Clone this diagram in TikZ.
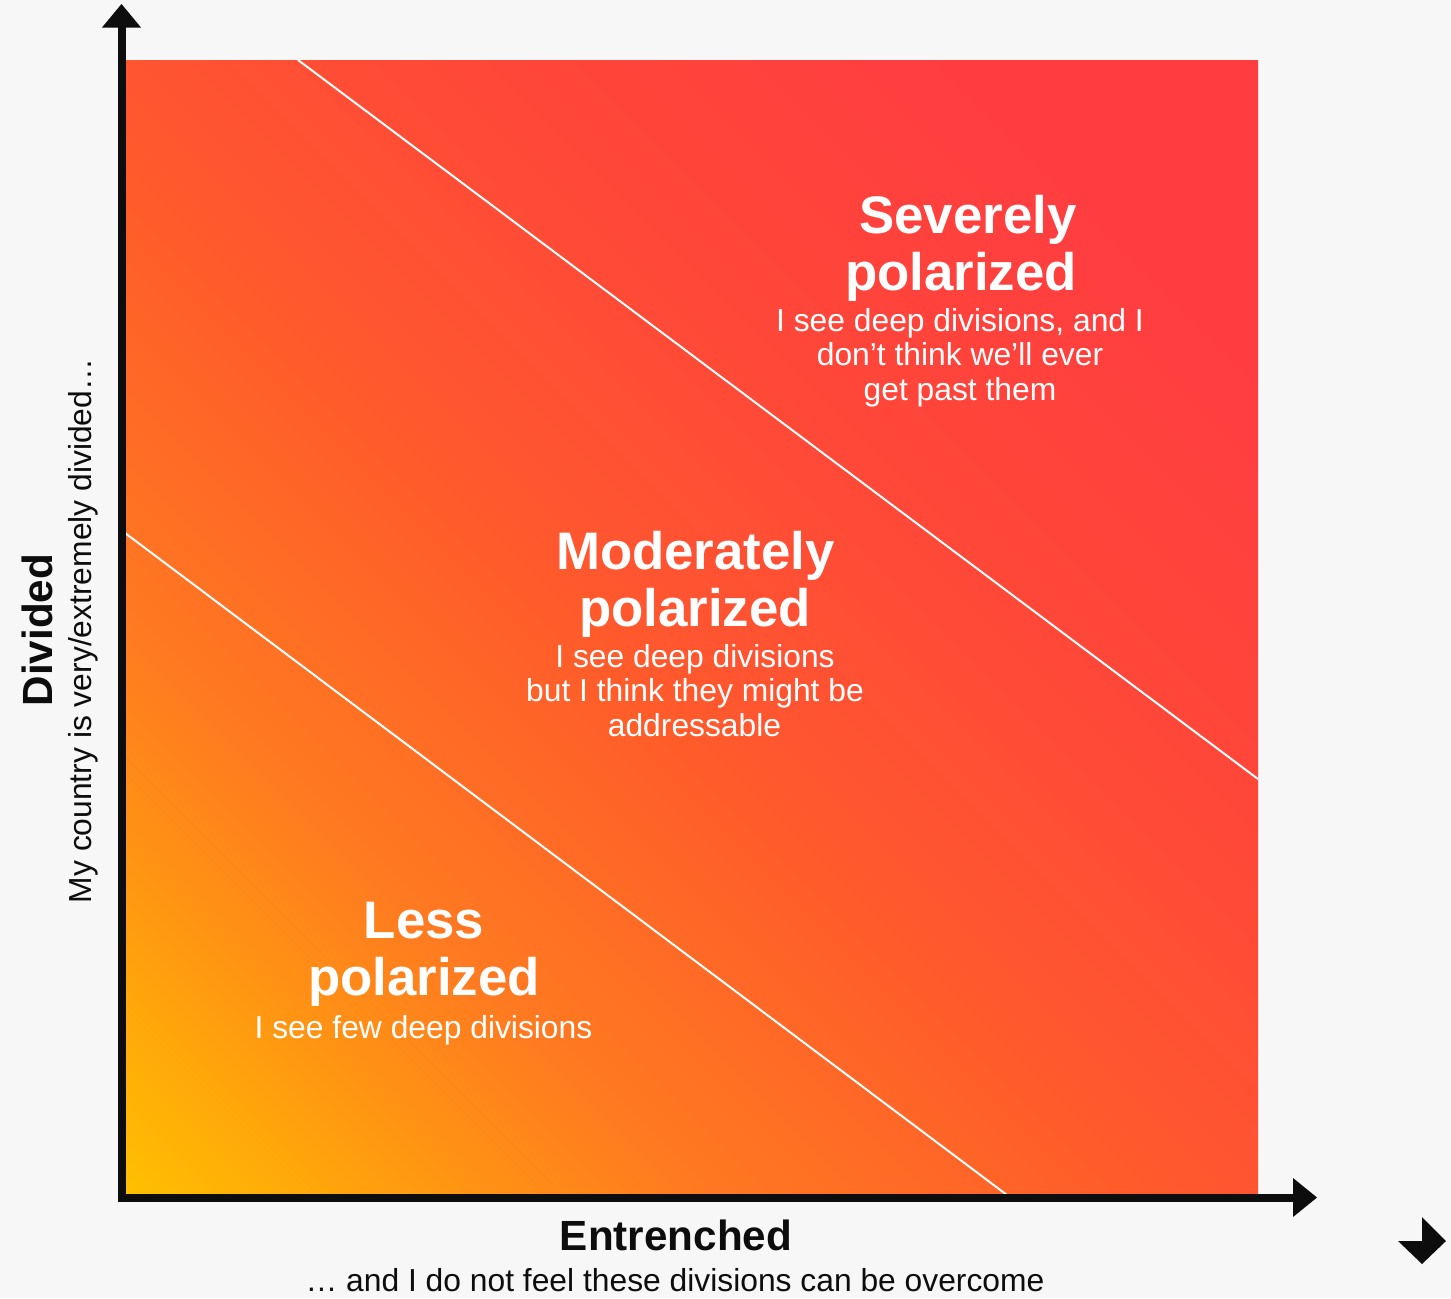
\documentclass[tikz,border=0pt]{standalone}
\usepackage{fontspec}
\setmainfont{Liberation Sans}
\definecolor{bg}{HTML}{F7F7F7}
\definecolor{ink}{HTML}{0D0D0D}
\definecolor{cA}{HTML}{FFC000}
\definecolor{cB}{HTML}{FF9A10}
\definecolor{cC}{HTML}{FF7A20}
\definecolor{cD}{HTML}{FF5C2A}
\definecolor{cE}{HTML}{FF5530}
\definecolor{cF}{HTML}{FF4838}
\definecolor{cG}{HTML}{FF3D40}
\pgfdeclarehorizontalshading{polar}{100bp}{color(0bp)=(cA); color(14.6bp)=(cA); color(23.8bp)=(cB); color(32.3bp)=(cC); color(45.8bp)=(cD); color(50bp)=(cE); color(60.6bp)=(cF); color(76bp)=(cG); color(100bp)=(cG)}
\tikzset{
  ttl/.style={font=\bfseries\fontsize{26.4}{28}\selectfont, text=white, anchor=base, inner sep=0pt},
  sub/.style={font=\fontsize{15.9}{17}\selectfont, text=white, anchor=base, inner sep=0pt},
  axttl/.style={font=\bfseries\fontsize{21.1}{23}\selectfont, text=ink, anchor=base, inner sep=0pt},
  axsub/.style={font=\fontsize{15.9}{17}\selectfont, text=ink, anchor=base, inner sep=0pt},
  divline/.style={draw=white, line width=1pt},
  axisline/.style={draw=ink, line width=4pt, line join=miter},
  tip/.style={fill=ink}
}
\begin{document}
\begin{tikzpicture}[x=0.5pt,y=-0.5pt]
\useasboundingbox (0,0) rectangle (1451,1298);
\fill[bg] (0,0) rectangle (1451,1298);
% gradient field
\shade[shading=polar, shading angle=45] (123,60) rectangle (1258,1195);
% division lines
\coordinate (l1a) at (298,60);
\coordinate (l1b) at (1258,779);
\coordinate (l2a) at (125,533);
\coordinate (l2b) at (1007,1195);
\draw[divline] (l1a) -- (l1b);
\draw[divline] (l2a) -- (l2b);
% axes
\coordinate (ytop) at (121.5,27);
\coordinate (orig) at (121.5,1198);
\coordinate (xend) at (1295,1198);
\draw[axisline] (ytop) -- (orig) -- (xend);
\fill[tip] (102,27.5) -- (141,27.5) -- (121.5,4) -- cycle;
\fill[tip] (1293,1178) -- (1293,1217) -- (1317,1197.5) -- cycle;
% corner glyph
\fill[tip] (1422,1217) -- (1446,1241) -- (1422,1264) -- (1398,1241) -- (1422,1241) -- cycle;
% Severely polarized
\node[ttl] (sev1) at (968,233) {Severely};
\node[ttl] (sev2) at (961,290) {polarized};
\node[sub] (sevs1) at (960,331) {I see deep divisions, and I};
\node[sub] (sevs2) at (960,365.5) {don’t think we’ll ever};
\node[sub] (sevs3) at (960,400) {get past them};
% Moderately polarized
\node[ttl] (mod1) at (695.5,569) {Moderately};
\node[ttl] (mod2) at (695,626) {polarized};
\node[sub] (mods1) at (695,667) {I see deep divisions};
\node[sub] (mods2) at (695,701.5) {but I think they might be};
\node[sub] (mods3) at (694.5,736) {addressable};
% Less polarized
\node[ttl] (les1) at (424,938) {Less};
\node[ttl] (les2) at (424,995) {polarized};
\node[sub] (less1) at (423.5,1038) {I see few deep divisions};
% axis labels
\node[axttl] (xttl) at (676,1250) {Entrenched};
\node[axsub] (xsub) at (675,1291) {… and I do not feel these divisions can be overcome};
\node[axttl, rotate=90] (yttl) at (52,630) {Divided};
\node[axsub, rotate=90] (ysub) at (91,631) {My country is very/extremely divided…};
\end{tikzpicture}
\end{document}
